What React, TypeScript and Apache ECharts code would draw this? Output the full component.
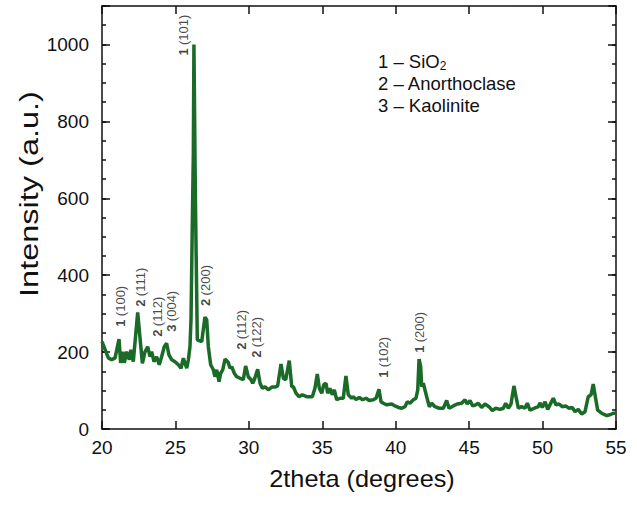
import React, { useEffect, useRef } from "react";
import * as echarts from "echarts";

// 2theta (degrees)
const twoTheta = [
  20.0, 20.43, 20.66, 20.89, 21.16, 21.27, 21.41, 21.52, 21.68, 21.86, 21.97, 22.13, 22.43, 22.59, 22.75, 22.93,
  23.11, 23.27, 23.38, 23.54, 23.72, 23.9, 24.06, 24.24, 24.4, 24.56, 24.75, 24.97, 25.2, 25.38, 25.54, 25.65,
  25.77, 25.88, 25.99, 26.06, 26.17, 26.22, 26.26, 26.36, 26.42, 26.49, 26.79, 27.01, 27.13, 27.24, 27.4, 27.58,
  27.69, 27.81, 27.97, 28.08, 28.22, 28.38, 28.6, 28.72, 28.83, 29.01, 29.17, 29.4, 29.62, 29.78, 29.96, 30.15,
  30.26, 30.37, 30.6, 30.76, 30.92, 31.1, 31.32, 31.56, 31.78, 31.96, 32.19, 32.35, 32.51, 32.75, 32.92, 33.03,
  33.21, 33.41, 33.64, 33.94, 34.32, 34.5, 34.66, 34.8, 34.96, 35.1, 35.25, 35.37, 35.52, 35.68, 35.82, 35.98,
  36.21, 36.43, 36.61, 36.77, 37.0, 37.11, 37.3, 37.52, 37.75, 37.98, 38.2, 38.47, 38.66, 38.86, 39.0, 39.15,
  39.39, 39.73, 39.95, 40.18, 40.41, 40.63, 40.79, 40.97, 41.2, 41.38, 41.5, 41.59, 41.7, 41.77, 41.88, 41.99,
  42.11, 42.29, 42.45, 42.67, 42.97, 43.24, 43.47, 43.63, 43.92, 44.19, 44.49, 44.72, 44.87, 45.06, 45.24, 45.4,
  45.62, 45.85, 46.08, 46.35, 46.58, 46.81, 47.1, 47.33, 47.49, 47.67, 47.85, 48.05, 48.19, 48.35, 48.57, 48.8,
  48.96, 49.14, 49.44, 49.71, 49.82, 49.98, 50.17, 50.35, 50.57, 50.73, 50.91, 51.12, 51.34, 51.57, 51.8, 52.02,
  52.21, 52.43, 52.66, 52.89, 53.11, 53.3, 53.45, 53.57, 53.75, 54.02, 54.37, 54.59, 54.82, 55.0,
];

// Intensity (a.u.)
const intensity = [
  227, 185, 180, 185, 234, 172, 201, 172, 201, 180, 206, 175, 303, 236, 171, 201,
  214, 188, 201, 175, 188, 167, 188, 214, 223, 193, 180, 175, 167, 158, 184, 171,
  158, 180, 214, 284, 589, 720, 1000, 600, 430, 232, 227, 291, 284, 214, 167, 154,
  136, 154, 123, 145, 154, 182, 173, 158, 162, 145, 136, 132, 128, 164, 136, 128,
  119, 128, 155, 119, 106, 110, 102, 109, 109, 112, 169, 132, 128, 178, 110, 110,
  93, 84, 89, 84, 84, 106, 143, 106, 93, 115, 119, 93, 106, 89, 102, 76,
  80, 80, 138, 89, 80, 84, 77, 82, 76, 80, 74, 76, 80, 103, 71, 67,
  63, 65, 60, 56, 54, 58, 71, 67, 76, 80, 102, 182, 162, 110, 119, 102,
  84, 58, 67, 58, 54, 54, 74, 54, 60, 65, 67, 76, 65, 74, 60, 62,
  67, 56, 65, 58, 48, 54, 51, 54, 67, 54, 65, 112, 84, 54, 58, 54,
  67, 49, 54, 58, 68, 56, 71, 51, 68, 80, 63, 65, 58, 60, 54, 56,
  45, 51, 39, 45, 84, 89, 117, 89, 49, 41, 35, 37, 41, 41,
];

// Peak annotations (anchor = start of rotated text)
const annX = [21.29, 22.59, 23.75, 24.7, 25.58, 27.08, 29.53, 30.55, 39.2, 41.65];
const annY = [266, 318, 240, 253, 971, 320, 206, 185, 133, 198];
const annPhase = ["1", "2", "2", "3", "1", "2", "2", "2", "1", "1"];
const annHkl = ["(100)", "(111)", "(112)", "(004)", "(101)", "(200)", "(112)", "(122)", "(102)", "(200)"];

// Legend lines
const legendNums = ["1", "2", "3"];
const legendNames = ["SiO", "Anorthoclase", "Kaolinite"];

const xTitle = "2theta (degrees)";
const yTitle = "Intensity (a.u.)";

const FONT = "'Liberation Sans', Arial, sans-serif";

export default function App() {
  const ref = useRef<HTMLDivElement>(null);

  useEffect(() => {
    document.body.style.margin = "0";
    if (!ref.current) return;
    const chart = echarts.init(ref.current, undefined, { renderer: "svg" });

    const lineData = twoTheta.map((x, i) => [x, intensity[i]]);
    const annData = annX.map((x, i) => ({
      value: [x, annY[i]],
      name: `{b|${annPhase[i]}} {n|${annHkl[i]}}`,
    }));

    const axisLineStyle = { color: "#111", width: 1.5 };
    const baseX = {
      type: "value" as const,
      min: 20,
      max: 55,
      interval: 5,
      splitLine: { show: false },
    };
    const baseY = {
      type: "value" as const,
      min: 0,
      max: 1100,
      splitLine: { show: false },
    };

    const legendText =
      `{t|${legendNums[0]} – ${legendNames[0]}}{s|2}\n` +
      `{t|${legendNums[1]} – ${legendNames[1]}}\n` +
      `{t|${legendNums[2]} – ${legendNames[2]}}`;

    chart.setOption({
      animation: false,
      backgroundColor: "#ffffff",
      textStyle: { fontFamily: FONT },
      grid: { left: 102, right: 21, top: 6, bottom: 76, containLabel: false },
      xAxis: [
        {
          ...baseX,
          position: "bottom",
          axisLine: { show: true, lineStyle: axisLineStyle },
          axisTick: { show: true, inside: true, length: 8, lineStyle: axisLineStyle },
          axisLabel: { show: true, fontSize: 19, color: "#111", margin: 9, fontFamily: FONT },
        },
        {
          ...baseX,
          position: "top",
          axisLine: { show: true, onZero: false, lineStyle: axisLineStyle },
          axisTick: { show: true, inside: true, length: 8, lineStyle: axisLineStyle },
          axisLabel: { show: false },
        },
      ],
      yAxis: [
        {
          ...baseY,
          position: "left",
          interval: 50,
          axisLine: { show: true, onZero: false, lineStyle: axisLineStyle },
          axisTick: { show: true, inside: true, length: 4, lineStyle: axisLineStyle },
          axisLabel: {
            show: true,
            fontSize: 19,
            color: "#111",
            margin: 13,
            fontFamily: FONT,
            formatter: (v: number) => (v % 200 === 0 && v <= 1000 ? String(v) : ""),
          },
        },
        {
          ...baseY,
          position: "left",
          interval: 200,
          axisLine: { show: false },
          axisTick: { show: true, inside: true, length: 8, lineStyle: axisLineStyle },
          axisLabel: { show: false },
        },
        {
          ...baseY,
          position: "right",
          interval: 50,
          axisLine: { show: true, onZero: false, lineStyle: axisLineStyle },
          axisTick: { show: true, inside: true, length: 4, lineStyle: axisLineStyle },
          axisLabel: { show: false },
        },
        {
          ...baseY,
          position: "right",
          interval: 200,
          axisLine: { show: false },
          axisTick: { show: true, inside: true, length: 8, lineStyle: axisLineStyle },
          axisLabel: { show: false },
        },
      ],
      series: [
        {
          type: "line",
          xAxisIndex: 0,
          yAxisIndex: 0,
          data: lineData,
          showSymbol: false,
          symbol: "none",
          lineStyle: { color: "#1a6a28", width: 3.5 },
          z: 2,
        },
        {
          type: "scatter",
          xAxisIndex: 0,
          yAxisIndex: 0,
          data: annData,
          symbolSize: 1,
          itemStyle: { color: "rgba(0,0,0,0)" },
          z: 3,
          label: {
            show: true,
            position: "inside",
            rotate: 90,
            align: "left",
            verticalAlign: "middle",
            formatter: (p: any) => p.name,
            rich: {
              b: { fontSize: 13, fontWeight: "bold", color: "#111", fontFamily: FONT },
              n: { fontSize: 13, color: "#1a1a1a", fontFamily: FONT },
            },
          },
        },
      ],
      graphic: [
        {
          type: "text",
          x: 362,
          y: 479,
          scaleX: 1.1,
          style: {
            text: xTitle,
            fontSize: 23,
            fontFamily: FONT,
            fill: "#111",
            align: "center",
            verticalAlign: "middle",
          },
        },
        {
          type: "text",
          x: 29,
          y: 194,
          rotation: Math.PI / 2,
          scaleX: 1.3,
          style: {
            text: yTitle,
            fontSize: 25,
            fontFamily: FONT,
            fill: "#111",
            align: "center",
            verticalAlign: "middle",
          },
        },
        {
          type: "text",
          x: 378,
          y: 50,
          style: {
            text: legendText,
            fontFamily: FONT,
            fill: "#111",
            rich: {
              t: { fontSize: 18.5, lineHeight: 22, fill: "#111", fontFamily: FONT },
              s: { fontSize: 12, lineHeight: 12, verticalAlign: "bottom", fill: "#111", fontFamily: FONT },
            },
          },
        },
      ],
    });

    return () => chart.dispose();
  }, []);

  return <div ref={ref} style={{ width: 637, height: 505 }} />;
}
